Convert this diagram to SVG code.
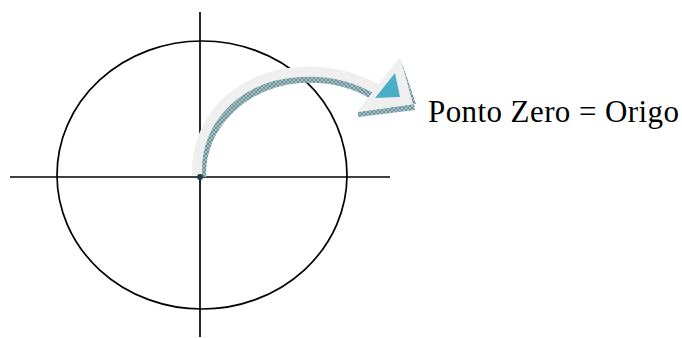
<svg xmlns="http://www.w3.org/2000/svg" width="682" height="338" viewBox="0 0 682 338">
<style>
.ln{fill:none;stroke:#000;stroke-width:1.7}
.lbl{font-family:"Liberation Serif","Times New Roman",serif;font-size:31px;fill:#000}
</style>
<defs>
<pattern id="hatch" width="4" height="4" patternUnits="userSpaceOnUse">
<rect width="4" height="4" fill="#a9c0c5"/>
<path d="M0,0L4,4M4,0L0,4" stroke="#4f7d87" stroke-width="0.7"/>
</pattern>
</defs>
<g id="axes">
<ellipse class="ln" cx="202" cy="175" rx="145" ry="134"/>
<line class="ln" x1="10" y1="177" x2="390" y2="177"/>
<line class="ln" x1="200" y1="12" x2="200" y2="337"/>
</g>
<g id="arrow">
<path d="M202,177 C201,125 245,83 300,79 C333,77 357,85 375,97" fill="none" stroke="url(#hatch)" stroke-width="8"/>
<path d="M197,175 C195,118 240,75 300,72 C335,70 360,79 382,92" fill="none" stroke="#efefef" stroke-width="10"/>
<polygon points="358,112 414,104 415,110 358,117" fill="url(#hatch)"/>
<polygon points="400,57 414,104 357,112" fill="#efefef"/>
<polygon points="401,60 416,104 413,104" fill="url(#hatch)"/>
<polygon points="395,73 400,97 375,98" fill="#4aaec6"/>
<circle cx="200" cy="177" r="3" fill="#1f3f45"/>
</g>
<g id="label">
<text class="lbl" x="428" y="122" textLength="251" lengthAdjust="spacing">Ponto Zero = Origo</text>
</g>
</svg>
